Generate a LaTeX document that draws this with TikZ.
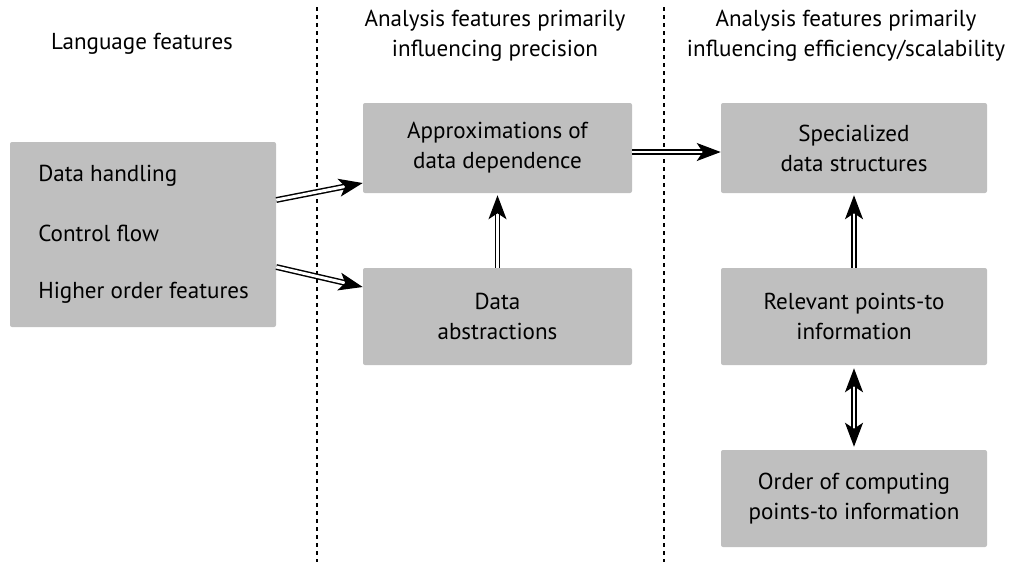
\documentclass[tikz,border=0pt]{standalone}
\usepackage{fontspec}
\setmainfont{PT Sans}
\usetikzlibrary{arrows.meta}
\begin{document}
\begin{tikzpicture}[x=0.75pt,y=-0.75pt,
  box/.style={fill=black!25, rounded corners=1.5pt, inner sep=0pt, align=center},
  lbl/.style={font=\fontsize{17.3}{22.5}\selectfont, align=center, inner sep=0pt},
  sep/.style={line width=1.3pt, dash pattern=on 3pt off 3pt},
  dbl/.style={double, double distance=2.2pt, line width=1.1pt, -{Stealth[length=18pt, width=13.5pt, inset=4.5pt]}},
  dbl2/.style={double, double distance=2.2pt, line width=1.1pt, {Stealth[length=18pt, width=13.5pt, inset=4.5pt]}-{Stealth[length=18pt, width=13.5pt, inset=4.5pt]}}]
\useasboundingbox (0,0) rectangle (1014,562);
% separators
\coordinate (s1t) at (317,7); \coordinate (s1b) at (317,562);
\coordinate (s2t) at (664,7); \coordinate (s2b) at (664,562);
\draw[sep] (s1t) -- (s1b);
\draw[sep] (s2t) -- (s2b);
% headers
\node[lbl] (h1) at (142,44) {Language features};
\node[lbl] (h2) at (495,36) {Analysis features primarily\\influencing precision};
\node[lbl] (h3) at (846,36) {Analysis features primarily\\influencing efficiency/scalability};
% boxes
\node[box, minimum width=266*0.75pt, minimum height=185*0.75pt] (lang) at (143,234.5) {};
\node[lbl, anchor=base west] (t1) at (38,181) {Data handling};
\node[lbl, anchor=base west] (t2) at (38,241) {Control flow};
\node[lbl, anchor=base west] (t3) at (38,298) {Higher order features};
\node[box, lbl, fill=black!25, minimum width=269*0.75pt, minimum height=90*0.75pt] (approx) at (497.5,148) {Approximations of\\data dependence};
\node[box, lbl, fill=black!25, minimum width=269*0.75pt, minimum height=97*0.75pt] (abs) at (497.5,316.5) {Data\\abstractions};
\node[box, lbl, fill=black!25, minimum width=266*0.75pt, minimum height=90*0.75pt] (spec) at (854,148) {Specialized\\data structures};
\node[box, lbl, fill=black!25, minimum width=266*0.75pt, minimum height=97*0.75pt] (rel) at (854,316.5) {Relevant points-to\\information};
\node[box, lbl, fill=black!25, minimum width=266*0.75pt, minimum height=97*0.75pt] (ord) at (854,498.5) {Order of computing\\points-to information};
% arrows
\draw[dbl] ([yshift=34.5*0.75pt]lang.east) -- ([yshift=-35*0.75pt]approx.west);
\draw[dbl] ([yshift=-32.5*0.75pt]lang.east) -- ([yshift=29.5*0.75pt]abs.west);
\draw[dbl] (abs.north) -- ([yshift=-2*0.75pt]approx.south);
\draw[dbl] ([yshift=-4*0.75pt]approx.east) -- ([yshift=-4*0.75pt]spec.west);
\draw[dbl] (rel.north) -- ([yshift=-2*0.75pt]spec.south);
\draw[dbl2] ([yshift=-3*0.75pt]rel.south) -- ([yshift=3*0.75pt]ord.north);
\end{tikzpicture}
\end{document}
